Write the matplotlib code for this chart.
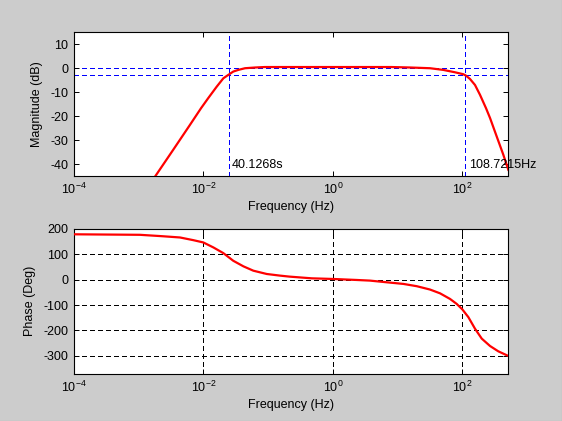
import matplotlib
matplotlib.use("Agg")
import matplotlib.pyplot as plt
from matplotlib.ticker import FixedLocator, LogFormatterMathtext, NullLocator
from matplotlib.lines import Line2D

plt.rcParams['font.family'] = ['Liberation Sans', 'DejaVu Sans']
plt.rcParams['mathtext.fontset'] = 'custom'
plt.rcParams['mathtext.rm'] = 'Liberation Sans'
plt.rcParams['mathtext.it'] = 'Liberation Sans:italic'
plt.rcParams['mathtext.bf'] = 'Liberation Sans:bold'
plt.rcParams['axes.unicode_minus'] = False

# ---- data ----
mag_freq = [0.00174, 0.00344, 0.00624, 0.00922, 0.0119, 0.0161, 0.0204, 0.0243,
            0.0290, 0.0347, 0.0441, 0.0631, 0.0891, 1.0, 8.0, 15.8, 31.7, 50.8,
            77.1, 103.5, 114.0, 131.5, 157.0, 187.5, 232.3, 268.0, 339.6, 429.5, 512.9]
mag_db = [-45.8, -34.0, -23.6, -16.7, -12.5, -7.7, -4.2, -2.8,
          -1.4, -0.7, 0.0, 0.3, 0.5, 0.5, 0.5, 0.3, 0.0, -0.7,
          -1.7, -2.5, -3.1, -4.5, -7.0, -11.1, -16.7, -20.8, -28.5, -36.1, -42.4]

ph_freq = [0.0001, 0.00105, 0.00229, 0.00437, 0.0070, 0.01, 0.0143, 0.0204,
           0.0290, 0.0417, 0.0592, 0.0955, 0.153, 0.214, 0.472, 1.0, 2.34, 3.75,
           6.79, 12.3, 19.8, 31.6, 45.3, 64.6, 81.8, 100.0, 123.9, 157.0, 199.5,
           268.0, 360.0, 512.9]
ph_deg = [178, 176, 170.6, 165.5, 155, 146, 126.4, 104,
          74, 52, 35, 22, 15.6, 11.7, 5, 2.5, -1.5, -4,
          -10.6, -17, -26, -39, -54, -76, -95.5, -117, -147.5, -193, -232,
          -261, -282, -300]

low_cut_s = 40.1268       # seconds (period)
high_cut_hz = 108.7215    # Hz
low_label = "40.1268s"
high_label = "108.7215Hz"

x_ticks = [1e-4, 1e-2, 1e0, 1e2]
mag_ticks = [10, 0, -10, -20, -30, -40]
ph_ticks = [200, 100, 0, -100, -200, -300]

# ---- figure ----
W, H = 562, 421
fig = plt.figure(figsize=(W / 100, H / 100), dpi=100, facecolor='#cccccc')

def axrect(l, t, r, b):
    return [l / W, 1 - b / H, (r - l) / W, (b - t) / H]

ax1 = fig.add_axes(axrect(73.8, 32.3, 508.3, 176.0))
ax2 = fig.add_axes(axrect(73.8, 228.7, 508.3, 374.0))

dash = (0, (4.5, 3.5))
for ax in (ax1, ax2):
    ax.set_facecolor('white')
    ax.set_xscale('log')
    ax.set_xlim(1e-4, 512.9)
    ax.xaxis.set_major_locator(FixedLocator(x_ticks))
    ax.xaxis.set_major_formatter(LogFormatterMathtext())
    ax.xaxis.set_minor_locator(NullLocator())
    ax.tick_params(which='both', direction='in', top=True, right=True,
                   length=3.6, width=0.7, labelsize=9, pad=4, colors='black')
    for s in ax.spines.values():
        s.set_linewidth(0.8)
        s.set_color('black')
    ax.set_xlabel('Frequency (Hz)', fontsize=9, labelpad=3)

# magnitude
ax1.set_ylim(-45, 15)
ax1.set_yticks(mag_ticks)
for yv in (0, -3):
    ax1.axhline(yv, color='#0000ff', lw=0.75, ls=dash, zorder=1,
                snap=True, antialiased=False)
for xv in (1 / low_cut_s, high_cut_hz):
    ax1.axvline(xv, color='#0000ff', lw=0.75, ls=dash, zorder=1,
                snap=True, antialiased=False)
ax1.plot(mag_freq, mag_db, color='#ff0000', lw=1.6, zorder=3)
ax1.annotate(low_label, xy=(1 / low_cut_s, -40.3), xytext=(3, 0),
             textcoords='offset pixels', fontsize=9, va='center', ha='left',
             annotation_clip=False, zorder=4)
ax1.annotate(high_label, xy=(high_cut_hz, -40.3), xytext=(4.5, 0),
             textcoords='offset pixels', fontsize=9, va='center', ha='left',
             annotation_clip=False, zorder=4)
ax1.set_ylabel('Magnitude (dB)', fontsize=9, labelpad=5)

# phase
ax2.set_ylim(-371, 200)
ax2.set_yticks(ph_ticks)
ax2.grid(True, which='major', color='black', lw=0.75, ls=dash, antialiased=False)
ax2.set_axisbelow(True)
ax2.plot(ph_freq, ph_deg, color='#ff0000', lw=1.6, zorder=3)
ax2.set_ylabel('Phase (Deg)', fontsize=9, labelpad=5)

# window border (right and bottom edges)
fig.add_artist(Line2D([1 - 0.5 / W, 1 - 0.5 / W], [0, 1], transform=fig.transFigure,
                      color='#404040', lw=0.75))
fig.add_artist(Line2D([0, 1], [0.5 / H, 0.5 / H], transform=fig.transFigure,
                      color='#404040', lw=0.75))

fig.savefig('out.png', dpi=100, facecolor=fig.get_facecolor())
